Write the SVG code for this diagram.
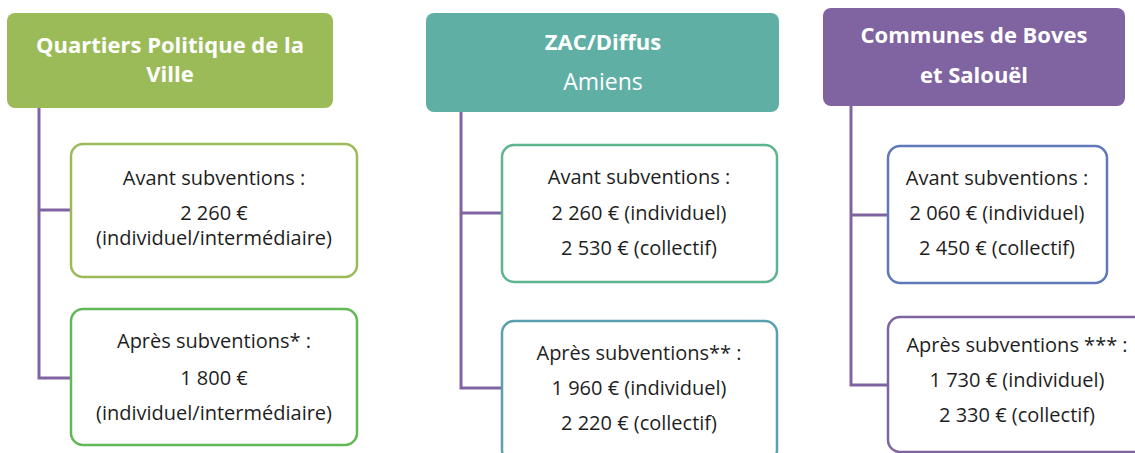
<svg xmlns="http://www.w3.org/2000/svg" width="1135" height="453" viewBox="0 0 1135 453">
<style>
.hd{font-family:"Open Sans","Liberation Sans",sans-serif;font-weight:bold;font-size:22px;fill:#ffffff;text-anchor:middle}
.hn{font-family:"Open Sans","Liberation Sans",sans-serif;font-size:23px;fill:#ffffff;text-anchor:middle}
.tx{font-family:"Open Sans","Liberation Sans",sans-serif;font-size:20px;fill:#1e1e1e;text-anchor:middle}
.box{fill:#ffffff;stroke-width:2.5}
.conn{fill:none;stroke:#8064A2;stroke-width:3}
</style>
<rect width="1135" height="453" fill="#ffffff"/>
<g id="connectors">
<path class="conn" d="M39,108 V378 H71 M39,210 H71"/>
<path class="conn" d="M461,112 V388 H502 M461,213 H502"/>
<path class="conn" d="M851,106 V385 H888 M851,215 H888"/>
</g>
<g id="h1">
<rect x="7" y="13" width="326" height="95" rx="8" fill="#9BBB59"/>
<text class="hd" x="170" y="53">Quartiers Politique de la</text>
<text class="hd" x="170" y="82">Ville</text>
</g>
<g id="b1">
<rect class="box" x="71" y="144" width="286" height="133" rx="12" stroke="#9BBB59"/>
<text class="tx" x="214" y="185">Avant subventions :</text>
<text class="tx" x="214" y="220">2 260 €</text>
<text class="tx" x="214" y="245">(individuel/intermédiaire)</text>
</g>
<g id="b2">
<rect class="box" x="71" y="309" width="286" height="136" rx="12" stroke="#62B857"/>
<text class="tx" x="214" y="348">Après subventions* :</text>
<text class="tx" x="214" y="385">1 800 €</text>
<text class="tx" x="214" y="420">(individuel/intermédiaire)</text>
</g>
<g id="h2">
<rect x="426" y="13" width="353" height="99" rx="8" fill="#5FAFA5"/>
<text class="hd" x="603" y="50">ZAC/Diffus</text>
<text class="hn" x="603" y="90">Amiens</text>
</g>
<g id="b3">
<rect class="box" x="502" y="145" width="275" height="137" rx="12" stroke="#5DB58F"/>
<text class="tx" x="639" y="184">Avant subventions :</text>
<text class="tx" x="639" y="220">2 260 € (individuel)</text>
<text class="tx" x="639" y="255">2 530 € (collectif)</text>
</g>
<g id="b4">
<rect class="box" x="502" y="321" width="275" height="141" rx="12" stroke="#5B9FB3"/>
<text class="tx" x="639" y="360">Après subventions** :</text>
<text class="tx" x="639" y="395">1 960 € (individuel)</text>
<text class="tx" x="639" y="430">2 220 € (collectif)</text>
</g>
<g id="h3">
<rect x="823" y="8" width="302" height="98" rx="8" fill="#8064A2"/>
<text class="hd" x="974" y="43">Communes de Boves</text>
<text class="hd" x="974" y="83">et Salouël</text>
</g>
<g id="b5">
<rect class="box" x="888" y="146" width="219" height="137" rx="12" stroke="#5F78BA"/>
<text class="tx" x="997" y="185">Avant subventions :</text>
<text class="tx" x="997" y="220">2 060 € (individuel)</text>
<text class="tx" x="997" y="255">2 450 € (collectif)</text>
</g>
<g id="b6">
<rect class="box" x="888" y="317" width="258" height="135" rx="12" stroke="#8064A2"/>
<text class="tx" x="1017" y="352">Après subventions *** :</text>
<text class="tx" x="1017" y="387">1 730 € (individuel)</text>
<text class="tx" x="1017" y="422">2 330 € (collectif)</text>
</g>
</svg>
